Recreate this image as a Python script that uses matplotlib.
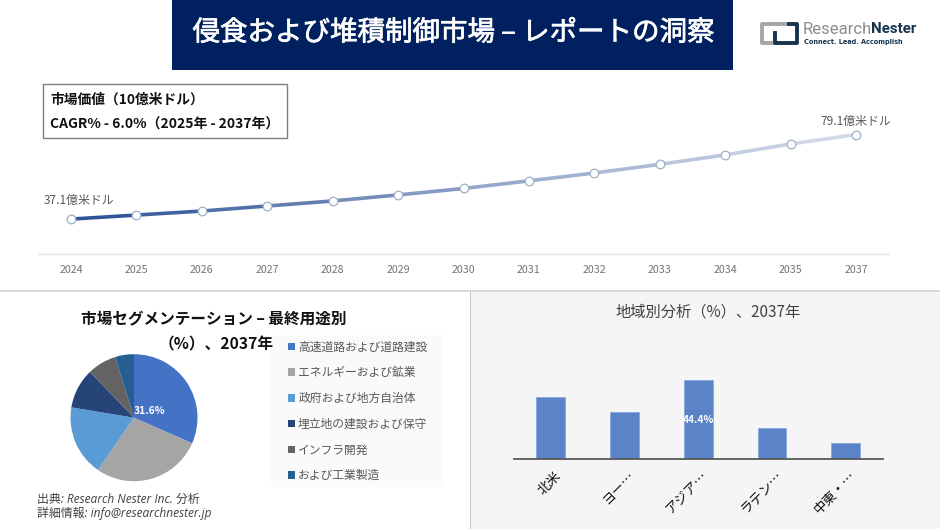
import numpy as np
import matplotlib
matplotlib.use("Agg")
import matplotlib.pyplot as plt
import matplotlib.patheffects as pe
from matplotlib.collections import LineCollection
from matplotlib.colors import LinearSegmentedColormap
from matplotlib.patches import Rectangle
from matplotlib.transforms import ScaledTranslation

plt.rcParams['font.family'] = ['Noto Sans CJK JP', 'DejaVu Sans']

W, H = 940, 529

# market value line
years = ['2024', '2025', '2026', '2027', '2028', '2029', '2030', '2031', '2032', '2033', '2034', '2035', '2037']
market = [37.1, 39.1, 41.1, 43.6, 46.1, 49.1, 52.3, 56.1, 60.0, 64.3, 69.0, 74.4, 79.1]
first_label = '37.1億米ドル'
last_label = '79.1億米ドル'

# end use pie
segments = ['高速道路および道路建設', 'エネルギーおよび鉱業', '政府および地方自治体',
            '埋立地の建設および保守', 'インフラ開発', 'および工業製造']
shares = [31.6, 28.0, 18.0, 10.2, 7.4, 4.8]
pie_colors = ['#4472C4', '#A5A5A5', '#5B9BD5', '#264478', '#636363', '#255E91']

# regional bars
regions = ['北米', 'ヨー…', 'アジア…', 'ラテン…', '中東・…']
region_vals = [35.2, 26.5, 44.4, 17.5, 8.9]


def px_axes(x0, y0, x1, y1, **kw):
    # axes placed with image pixel coordinates, y going down
    return fig.add_axes([x0 / W, 1 - y1 / H, (x1 - x0) / W, (y1 - y0) / H], **kw)


fig = plt.figure(figsize=(W / 100, H / 100), dpi=100, facecolor='white')

# background layer in pixels
bg = px_axes(0, 0, W, H)
bg.set_xlim(0, W)
bg.set_ylim(H, 0)
bg.axis('off')
bg.add_patch(Rectangle((471, 292), 469, 237, fc='#F5F5F5', ec='none'))
bg.add_patch(Rectangle((0, 289.5), W, 2.5, fc='#D9D9D9', ec='none'))
bg.add_patch(Rectangle((470, 292), 1.2, 237, fc='#C8C8C8', ec='none'))
bg.add_patch(Rectangle((172, 0), 561, 70, fc='#002060', ec='none'))
title = bg.text(453.5, 33, '侵食および堆積制御市場 – レポートの洞察', color='white', fontsize=19.8,
                ha='center', va='center')
title.set_path_effects([pe.withStroke(linewidth=0.5, foreground='white')])

# value box
bg.add_patch(Rectangle((43, 84), 244, 54, fc='white', ec='#7F7F7F', lw=1))
bg.text(50, 100, '市場価値（10億米ドル）', fontsize=9.9, fontweight='bold', va='center', color='#111111')
bg.text(50, 125, 'CAGR% - 6.0%（2025年 - 2037年）', fontsize=10, fontweight='bold', va='center', color='#111111')

# logo
bg.plot([786, 762, 762, 778], [24, 24, 43, 43], color='#A6A6A6', lw=2.8, solid_joinstyle='round')
bg.plot([775, 775, 797, 797, 789], [33, 43, 43, 24, 24], color='#17344F', lw=2.8, solid_joinstyle='round')
bg.text(803, 29, 'Research', color='#8C8C8C', fontsize=12, va='center', family='Roboto')
bg.text(871, 29, 'Nester', color='#17344F', fontsize=10.8, va='center', fontweight='bold', family='Roboto')
bg.text(804, 42, 'Connect. Lead. Accomplish', color='#17344F', fontsize=4.7, va='center',
        fontweight='bold', family='DejaVu Sans')

# section titles
bg.text(213.5, 318, '市場セグメンテーション – 最終用途別', fontsize=11.25, fontweight='bold', ha='center',
        va='center', color='#111111')
bg.text(216, 344, '（%）、2037年', fontsize=11.3, fontweight='bold', ha='center', va='center', color='#111111')
bg.text(708, 312, '地域別分析（%）、2037年', fontsize=11, ha='center', va='center', color='#404040')

# footer
bg.text(37, 499, '出典: Research Nester Inc. 分析', fontsize=8.6, style='italic', va='center', color='#404040',
        family=['Open Sans', 'Noto Sans CJK JP'])
bg.text(37, 513, '詳細情報: info@researchnester.jp', fontsize=8.6, style='italic', va='center', color='#404040',
        family=['Open Sans', 'Noto Sans CJK JP'])

# legend panel behind the legend
bg.add_patch(Rectangle((271, 335), 172, 152, fc='#FAFAFA', ec='none'))

# line chart
ax = px_axes(38.3, 92.5, 888.7, 253.5)
ax.patch.set_alpha(0)
xs = np.arange(len(years))
pts = np.column_stack([xs, market])
segs = np.stack([pts[:-1], pts[1:]], axis=1)
cmap = LinearSegmentedColormap.from_list('fade', ['#2F5597', '#8FA2C8', '#D2D8EA'])
lc = LineCollection(segs, colors=cmap(np.linspace(0, 1, len(segs))), linewidths=2.6, capstyle='round')
ax.add_collection(lc)
ax.plot(xs, market, ls='none', marker='o', ms=6.2, mfc='white', mec='#9FB0C8', mew=0.9, zorder=3)
ax.set_xlim(-0.5, len(years) - 0.5)
ax.set_ylim(20, 100)
ax.set_xticks(xs, years)
ax.set_yticks([])
ax.tick_params(axis='x', length=0, pad=8, labelsize=7.7, labelcolor='#737373')
for s in ['top', 'left', 'right']:
    ax.spines[s].set_visible(False)
ax.spines['bottom'].set_color('#E3E3E3')
ax.spines['bottom'].set_linewidth(1)
ax.annotate(first_label, (0, market[0]), xytext=(6, 9), textcoords='offset points', ha='center',
            va='bottom', fontsize=8.6, color='#595959')
ax.annotate(last_label, (len(years) - 1, market[-1]), xytext=(0, 5), textcoords='offset points', ha='center',
            va='bottom', fontsize=8.6, color='#595959')

# pie
pax = px_axes(70.5, 354.2, 197.5, 481.2)
pax.patch.set_alpha(0)
wedges, _ = pax.pie(shares, colors=pie_colors, startangle=90, counterclock=False, radius=1)
pax.set_xlim(-1, 1)
pax.set_ylim(-1, 1)
pax.text(0.25, 0.1, f'{shares[0]}%', color='white', fontsize=7.4, fontweight='bold', ha='center', va='center')
leg = fig.legend(wedges, segments, loc='upper left', bbox_to_anchor=(287.5 / W, 1 - 340.5 / H), frameon=False,
                 fontsize=8.5, labelcolor='#595959', handlelength=0.6, handleheight=0.6, handletextpad=0.3,
                 labelspacing=1.08, borderaxespad=0, borderpad=0)

# bars
bax = px_axes(514, 370.4, 882.7, 459)
bax.patch.set_alpha(0)
bx = np.arange(len(regions))
bars = bax.bar(bx, region_vals, width=0.39, color='#5B84C8', edgecolor='#8FAADC', linewidth=0.7)
bax.set_xlim(-0.5, len(regions) - 0.5)
bax.set_ylim(0, 50)
bax.set_yticks([])
bax.set_xticks(bx, regions, rotation=45, ha='right', rotation_mode='anchor')
bax.tick_params(axis='x', length=0, pad=7, labelsize=9.6, labelcolor='#111111')
shift = ScaledTranslation(3 / 100, 0, fig.dpi_scale_trans)
for lab in bax.get_xticklabels():
    lab.set_transform(lab.get_transform() + shift)
for s in ['top', 'left', 'right']:
    bax.spines[s].set_visible(False)
bax.spines['bottom'].set_color('#595959')
bax.spines['bottom'].set_linewidth(1.3)
bax.text(2, region_vals[2] / 2, f'{region_vals[2]}%', color='white', fontsize=7.4, fontweight='bold',
         ha='center', va='center')

fig.savefig('out.png', dpi=100)
